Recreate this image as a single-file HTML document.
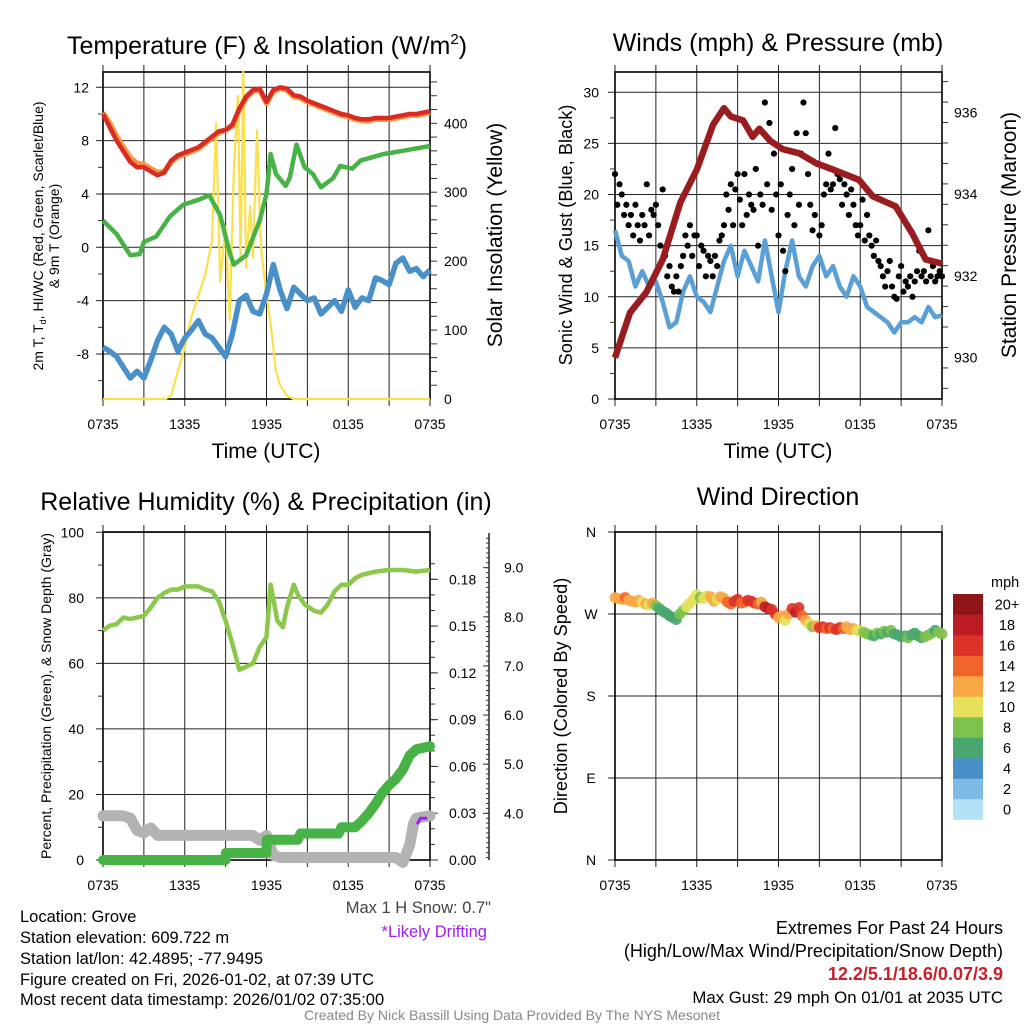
<!DOCTYPE html>
<html><head><meta charset="utf-8"><style>
html,body{margin:0;padding:0;background:#fff;}
svg{display:block;font-family:"Liberation Sans",Arial,sans-serif;}
</style></head><body>
<svg id="c" width="1024" height="1024" viewBox="0 0 1024 1024">
<rect width="1024" height="1024" fill="#fff"/>
<g id="p1"></g>
<g id="p2"></g>
<g id="p3"></g>
<g id="p4"></g>
<text x="267" y="54" font-size="25" text-anchor="middle">Temperature (F) &amp; Insolation (W/m<tspan font-size="15" dy="-10">2</tspan><tspan dy="10">)</tspan></text>
<text x="778" y="51" font-size="25" text-anchor="middle">Winds (mph) &amp; Pressure (mb)</text>
<text x="266" y="510" font-size="25" text-anchor="middle">Relative Humidity (%) &amp; Precipitation (in)</text>
<text x="778" y="505" font-size="25" text-anchor="middle">Wind Direction</text>
<text x="266" y="458" font-size="21" text-anchor="middle">Time (UTC)</text>
<text x="778" y="458" font-size="21" text-anchor="middle">Time (UTC)</text>
<text transform="translate(43,236) rotate(-90)" font-size="14" text-anchor="middle">2m T, T<tspan font-size="9" dy="3">d</tspan><tspan dy="-3">, HI/WC (Red, Green, Scarlet/Blue)</tspan></text>
<text transform="translate(59,236) rotate(-90)" font-size="14" text-anchor="middle">&amp; 9m T (Orange)</text>
<text transform="translate(502,235) rotate(-90)" font-size="21" text-anchor="middle">Solar Insolation (Yellow)</text>
<text transform="translate(572,235) rotate(-90)" font-size="18.2" text-anchor="middle">Sonic Wind &amp; Gust (Blue, Black)</text>
<text transform="translate(1016,235) rotate(-90)" font-size="21" text-anchor="middle">Station Pressure (Maroon)</text>
<text transform="translate(51,696) rotate(-90)" font-size="14" text-anchor="middle">Percent, Precipitation (Green), &amp; Snow Depth (Gray)</text>
<text transform="translate(567,696) rotate(-90)" font-size="18.2" text-anchor="middle">Direction (Colored By Speed)</text>
<text x="491" y="913" font-size="16.5" fill="#444" text-anchor="end">Max 1 H Snow: 0.7"</text>
<text x="487" y="937" font-size="16.5" fill="#a020f0" text-anchor="end">*Likely Drifting</text>
<g font-size="16.5">
<text x="20" y="922">Location: Grove</text>
<text x="20" y="943">Station elevation: 609.722 m</text>
<text x="20" y="964">Station lat/lon: 42.4895; -77.9495</text>
<text x="20" y="985">Figure created on Fri, 2026-01-02, at 07:39 UTC</text>
<text x="20" y="1005">Most recent data timestamp: 2026/01/02 07:35:00</text>
</g>
<g text-anchor="end">
<text x="1003" y="934" font-size="18">Extremes For Past 24 Hours</text>
<text x="1003" y="957" font-size="18">(High/Low/Max Wind/Precipitation/Snow Depth)</text>
<text x="1003" y="980" font-size="18" fill="#c8202a" font-weight="bold">12.2/5.1/18.6/0.07/3.9</text>
<text x="1003" y="1003" font-size="16.8">Max Gust: 29 mph On 01/01 at 2035 UTC</text>
</g>
<text x="512" y="1020" font-size="14" fill="#888" text-anchor="middle">Created By Nick Bassill Using Data Provided By The NYS Mesonet</text>
</svg>
<script>
// ---- data ----
const xTickLabels = ["0735","1335","1935","0135","0735"];
const halfHours = []; for (let i=0;i<=48;i++) halfHours.push(i*0.5);
const quarterHours = []; for (let i=0;i<=96;i++) quarterHours.push(i*0.25);
const tempF = [10.0,9.0,8.0,7.2,6.4,6.0,6.0,5.7,5.4,5.6,6.5,6.9,7.1,7.3,7.5,7.9,8.3,8.7,8.8,9.2,10.4,11.3,11.8,11.9,10.9,11.8,12.0,11.9,11.4,11.3,11.0,10.8,10.6,10.4,10.2,10.0,9.9,9.7,9.6,9.6,9.7,9.7,9.7,9.8,9.9,10.0,10.0,10.1,10.2];
const temp9mF = [10.1,9.3,8.3,7.5,6.7,6.3,6.2,5.9,5.6,5.7,6.4,6.8,7.0,7.2,7.4,7.8,8.2,8.6,8.8,9.1,10.3,11.2,11.7,11.8,10.8,11.7,11.9,11.8,11.3,11.2,10.9,10.7,10.5,10.3,10.1,9.9,9.8,9.6,9.5,9.5,9.6,9.6,9.6,9.7,9.8,9.9,9.9,10.0,10.1];
const dewHours = [0,1,2,2.7,3,3.9,4.9,5.9,7.1,7.8,8.6,9.3,9.6,10.5,11.5,12,12.3,12.7,13.4,13.7,14.2,14.8,15.4,16,16.9,17.4,18.3,18.9,20.6,21.8,24];
const dewF = [2.0,1.0,-0.6,-0.5,0.4,0.8,2.3,3.2,3.6,3.9,2.4,-0.4,-1.3,-0.6,2.0,4.0,7.0,5.5,4.6,5.2,7.7,6.0,5.5,4.5,5.2,6.1,5.9,6.5,7.0,7.2,7.6];
const windChillF = [-7.5,-7.8,-8.2,-9.0,-9.8,-9.3,-9.8,-8.5,-7.0,-6.0,-6.5,-7.8,-6.8,-6.2,-5.5,-6.5,-6.8,-7.5,-8.2,-6.5,-4.0,-3.6,-4.8,-5.0,-3.5,-1.3,-3.2,-4.6,-3.0,-3.5,-4.0,-3.8,-5.0,-4.5,-4.0,-4.8,-3.2,-4.5,-3.8,-4.0,-2.3,-2.5,-2.8,-1.2,-0.8,-1.8,-1.6,-2.2,-1.7];
const solarHours = [0,4.6,5,5.5,6,6.5,7,7.5,8,8.3,8.6,9,9.3,9.6,9.9,10.1,10.3,10.5,10.8,11,11.3,11.6,12,12.3,12.7,13,13.5,14,24];
const solarW = [0,0,5,40,75,120,150,180,230,400,170,250,115,330,440,200,475,190,280,205,390,220,150,110,40,20,5,0,0];
const windMph = [16.5,14,13.5,11,12.5,11,11.5,9.5,7,7.5,10.5,12,10,9.5,8.5,11,13.5,15,12,14.5,13,11.5,15.5,12,8.5,12.5,15.5,12,11,13,14,12,13,11,10,12,11,9,8.5,8,7.5,6.5,7.5,7.5,8,7.5,9,8,8.2];
const gustMph = [22,19,21,20,18,19, 17,18,16,19,17,15.5, 18,17,21,16,18.5,18, 19,17,15,20.5,14,12, 13,11,10.5,12,10.5,13, 14,16,15,17,14,16, 16,13,15,14.5,12,14, 13.5,12,14,13,15.5,16, 17,20,18.5,21,17,20.5, 22,19.5,17,22,18,20, 19,18.5,22.5,15,20,19, 29,21,27,18.5,24,20, 16,21,14.5,12.5,18,20, 22.5,17,26,19,24,29, 26,22,19,16.5,18,23, 16,17,20,21,24,20.5, 21,26.5,22,21.5,19,21, 20,18,20.5,19,17,16, 17,19.5,15.5,18,16,15, 14,15.5,13.5,13,12,11, 12.5,13.5,11,10,9.8,12, 13,10.5,11.5,11,12,10, 11.5,12.5,14.5,12,12.5,11.5, 16.5,12,13,11.5,12,12.5, 12];
const presHours = [0,1.1,2.3,3.5,4.8,6,7.2,8,8.5,9.4,10.1,10.6,11.4,12.3,13.5,14.8,16,17.9,18.9,20.6,21.8,22.8,24];
const pressureMb = [930.0,931.1,931.6,932.4,933.8,934.6,935.7,936.1,935.9,935.8,935.4,935.6,935.3,935.1,935.0,934.75,934.6,934.35,933.95,933.7,933.05,932.4,932.3];
const rhHours = [0,0.5,1,1.5,2,2.5,3,3.5,4,4.5,5,5.5,6,6.5,7,7.5,8,8.5,9,9.5,10,10.5,11,11.5,12,12.3,12.8,13.2,13.5,14,14.3,14.8,15.5,16,16.5,17,17.5,18,18.5,19,20,21,22,23,24];
const rhPct = [70,71.5,72,74,73.5,74,74.5,77,80,81.5,82.5,82.5,83.5,83.5,83.5,82.5,82,79,73,66,58,59,60,65,68,84,73,71,77,84,81,78,76,75.5,78,82,84,84,86,87,88,88.5,88.5,88,88.5];
const precipHours = [0,9,9.01,12,12.01,14.3,14.5,17.3,17.5,18.5,19,19.5,20,20.5,21,21.5,22,22.5,23,24];
const precipIn = [0,0,0.0045,0.0045,0.013,0.013,0.017,0.017,0.021,0.021,0.025,0.030,0.036,0.043,0.048,0.052,0.058,0.067,0.071,0.073];
const snowHours = [0,1.5,2,2.5,3,3.5,4,4.5,11,11.5,12,12.5,13,21.5,22,22.5,22.8,23,24];
const snowIn = [3.95,3.95,3.9,3.65,3.6,3.7,3.55,3.55,3.55,3.45,3.55,3.15,3.1,3.1,3.0,3.35,3.8,3.9,3.95];
const driftHours = [23.1,23.3,23.7];
const driftIn = [3.8,3.9,3.9];
const dirDeg = [288,287,286,288, 285,284,283,285, 283,281,280,282, 279,276,273,271, 268,266,264,270, 274,278,282,286, 291,288,287,290, 289,284,286,289, 287,283,281,284, 286,282,283,285, 284,282,281,283, 278,276,275,270, 266,268,263,270, 276,272,277,268, 263,259,256,257, 255,256,254,255, 254,253,255,254, 256,253,254,252, 251,250,248,247, 246,249,248,251, 250,252,248,247, 245,246,244,247, 249,246,244,245, 247,249,252,250, 248];
const dirSpeed = [13,13,12,14, 12,12,13,12, 11,12,11,12, 8,7,6,7, 6,6,7,8, 9,10,11,10, 10,9,11,10, 12,13,11,12, 13,15,14,16, 16,15,14,17, 17,16,15,13, 19,18,17,16, 12,13,11,12, 17,18,16,15, 13,11,9,12, 16,17,15,16, 15,16,17,14, 12,13,12,11, 10,9,8,8, 7,8,7,9, 7,8,6,7, 6,7,8,7, 7,6,7,8, 8,9,7,8, 8];
const speedBins = ["0","2","4","6","8","10","12","14","16","18","20+"];
const speedColors = ["#b3e2f7","#7ebbe4","#4a90c8","#4aa66f","#7dc24c","#e6e05a","#f7a845","#ef6428","#dd3228","#bc1b23","#8e1518"];

const NS="http://www.w3.org/2000/svg";
function mk(parent,tag,attrs){const e=document.createElementNS(NS,tag);for(const k in attrs)e.setAttribute(k,attrs[k]);parent.appendChild(e);return e;}
function lin(d0,d1,r0,r1){return v=>r0+(v-d0)*(r1-r0)/(d1-d0);}
function path(xs,ys,fx,fy){return xs.map((x,i)=>(i?"L":"M")+fx(x).toFixed(1)+","+fy(ys[i]).toFixed(1)).join("");}

function frame(g,L,R,T,B,hLines){
  const fx=lin(0,24,L,R);
  for(let h=0;h<=24;h+=3){
    const x=fx(h);
    const ln=mk(g,"line",{x1:x,x2:x,y1:T-7,y2:B+7,stroke:"#222","stroke-width":1});
    
    
  }
  hLines.forEach(y=>{
    const ln=mk(g,"line",{x1:L-7,x2:R,y1:y,y2:y,stroke:"#222","stroke-width":1});
    
    
  });
  const bx=mk(g,"rect",{x:L,y:T,width:R-L,height:B-T,fill:"none",stroke:"#000","stroke-width":1.6});
  
  
  xTickLabels.forEach((t,i)=>{
    const tx=mk(g,"text",{x:fx(i*6),y:B+30,"font-size":14,"text-anchor":"middle"});
    tx.textContent=t;
    
    
  });
  return fx;
}
function yLabel(g,x,y,t,anchor){
  const tx=mk(g,"text",{x:x,y:y+5,"font-size":14,"text-anchor":anchor});
  tx.textContent=t;
  
  
}
function minorTicks(g,x,ys,dir){ys.forEach(y=>{const l=mk(g,"line",{x1:x,x2:x+dir,y1:y,y2:y,stroke:"#333","stroke-width":1});});}

// ---- Panel 1 ----
(function(){
  const g=document.getElementById("p1");
  const L=103,R=430,T=72,B=399;
  const fy=lin(0,12,247.3,87.3), fs=lin(0,400,399,123.3);
  const ticks=[12,8,4,0,-4,-8];
  const fx=frame(g,L,R,T,B,ticks.map(fy));
  ticks.forEach(v=>yLabel(g,L-14,fy(v),String(v),"end"));
  [0,100,200,300,400].forEach(v=>yLabel(g,R+14,fs(v),String(v),"start"));
  const mt=[];for(let v=20;v<=460;v+=20)mt.push(fs(v));minorTicks(g,R,mt,7);
  const mt2=[];for(let v=-10;v<=12;v+=2)if(v%4)mt2.push(fy(v));minorTicks(g,L,mt2,-5);
  const s=mk(g,"path",{d:path(solarHours,solarW,fx,fs),fill:"none",stroke:"#f9e04c","stroke-width":2.2,"stroke-linejoin":"round"});
  
  const o=mk(g,"path",{d:path(halfHours,temp9mF,fx,fy),fill:"none",stroke:"#f7943c","stroke-width":5.5,"stroke-linejoin":"round"});
  
  const r=mk(g,"path",{d:path(halfHours,tempF,fx,fy),fill:"none",stroke:"#d92a26","stroke-width":4.5,"stroke-linejoin":"round"});
  
  const gr=mk(g,"path",{d:path(dewHours,dewF,fx,fy),fill:"none",stroke:"#47b346","stroke-width":4.5,"stroke-linejoin":"round"});
  
  const b=mk(g,"path",{d:path(halfHours,windChillF,fx,fy),fill:"none",stroke:"#4a90c8","stroke-width":5.5,"stroke-linejoin":"round"});
  
})();

// ---- Panel 2 ----
(function(){
  const g=document.getElementById("p2");
  const L=615,R=942,T=72,B=399;
  const fy=lin(0,30,399,92.3), fp=lin(930,936,357.7,112.3);
  const ticks=[0,5,10,15,20,25,30];
  const fx=frame(g,L,R,T,B,ticks.map(fy));
  ticks.forEach(v=>yLabel(g,L-16,fy(v),String(v),"end"));
  [930,932,934,936].forEach(v=>yLabel(g,R+12,fp(v),String(v),"start"));
  const mt=[];for(let v=929.25;v<=937;v+=0.5)mt.push(fp(v));minorTicks(g,R,mt.filter(y=>y>T&&y<B),6);
  const mt2=[];for(let v=2.5;v<=30;v+=5)mt2.push(fy(v));minorTicks(g,L,mt2,-5);
  const b=mk(g,"path",{d:path(halfHours,windMph,fx,fy),fill:"none",stroke:"#5a9fd6","stroke-width":4.5,"stroke-linejoin":"round"});
  
  gustMph.forEach((v,i)=>{
    const c=mk(g,"circle",{cx:fx(i/6),cy:fy(v),r:3.1,fill:"#000"});
    
    
  });
  const p=mk(g,"path",{d:path(presHours,pressureMb,fx,fp),fill:"none",stroke:"#9b1c1f","stroke-width":6.5,"stroke-linejoin":"round"});
  
})();

// ---- Panel 3 ----
(function(){
  const g=document.getElementById("p3");
  const L=103,R=430,T=532,B=860;
  const fy=lin(0,100,860,532.3), fpr=lin(0,0.18,860,579.3), fsn=lin(4,9,813.3,567.7);
  const ticks=[0,20,40,60,80,100];
  const fx=frame(g,L,R,T,B,ticks.map(fy));
  ticks.forEach(v=>yLabel(g,L-19,fy(v),String(v),"end"));
  [0,0.03,0.06,0.09,0.12,0.15,0.18].forEach(v=>yLabel(g,R+19,fpr(v),v.toFixed(2),"start"));
  const mt=[];for(let v=0;v<=0.2;v+=0.01)mt.push(fpr(v));minorTicks(g,R,mt.filter(y=>y>=T),5);
  [0,0.03,0.06,0.09,0.12,0.15,0.18].forEach(v=>minorTicks(g,R,[fpr(v)],8));
  const sx=489;
  const ax=mk(g,"line",{x1:sx,x2:sx,y1:533,y2:860,stroke:"#333","stroke-width":1.6});
  
  const smt=[];for(let v=3.1;v<=9.6;v+=0.1)smt.push(fsn(v));minorTicks(g,sx,smt.filter(y=>y>=535&&y<=860),-3);
  [4,5,6,7,8,9].forEach(v=>{minorTicks(g,sx,[fsn(v)],-6);yLabel(g,sx+15,fsn(v),v.toFixed(1),"start");});
  const mt2=[];for(let v=10;v<=90;v+=20)mt2.push(fy(v));minorTicks(g,L,mt2,-5);
  const sn=mk(g,"path",{d:path(snowHours,snowIn,fx,fsn),fill:"none",stroke:"#b3b3b3","stroke-width":11,"stroke-linejoin":"round","stroke-linecap":"round"});
  
  const pr=mk(g,"path",{d:path(precipHours,precipIn,fx,fpr),fill:"none",stroke:"#47b346","stroke-width":10,"stroke-linejoin":"round","stroke-linecap":"round"});
  
  const rh=mk(g,"path",{d:path(rhHours,rhPct,fx,fy),fill:"none",stroke:"#8cc84b","stroke-width":4.5,"stroke-linejoin":"round"});
  
  const dr=mk(g,"path",{d:path(driftHours,driftIn,fx,fsn),fill:"none",stroke:"#a020f0","stroke-width":3,"stroke-linecap":"round"});
  
})();

// ---- Panel 4 ----
(function(){
  const g=document.getElementById("p4");
  const L=615,R=942,T=532,B=860;
  const fy=lin(0,360,860,532);
  const ticks=[0,90,180,270,360], names=["N","E","S","W","N"];
  const fx=frame(g,L,R,T,B,ticks.map(fy));
  ticks.forEach((v,i)=>yLabel(g,L-24,fy(v),names[i],"middle"));
  dirDeg.forEach((d,i)=>{
    const bin=Math.min(10,Math.floor(dirSpeed[i]/2));
    const c=mk(g,"circle",{cx:fx(quarterHours[i]),cy:fy(d),r:5.5,fill:speedColors[bin],"fill-opacity":0.9});
    
    
  });
  const cb=mk(g,"g",{});
  
  const t=mk(cb,"text",{x:991,y:587,"font-size":14.5,"text-anchor":"start"});t.textContent="mph";
  
  const top=594,h=20.5;
  speedBins.forEach((lab,i)=>{
    const y=top+(10-i)*h;
    const r=mk(cb,"rect",{x:953,y:y,width:30,height:h+0.3,fill:speedColors[i]});
    
    const tx=mk(cb,"text",{x:1007,y:y+h/2+5,"font-size":14.5,"text-anchor":"middle"});tx.textContent=lab;
    
  });
})();
</script>
</body></html>
